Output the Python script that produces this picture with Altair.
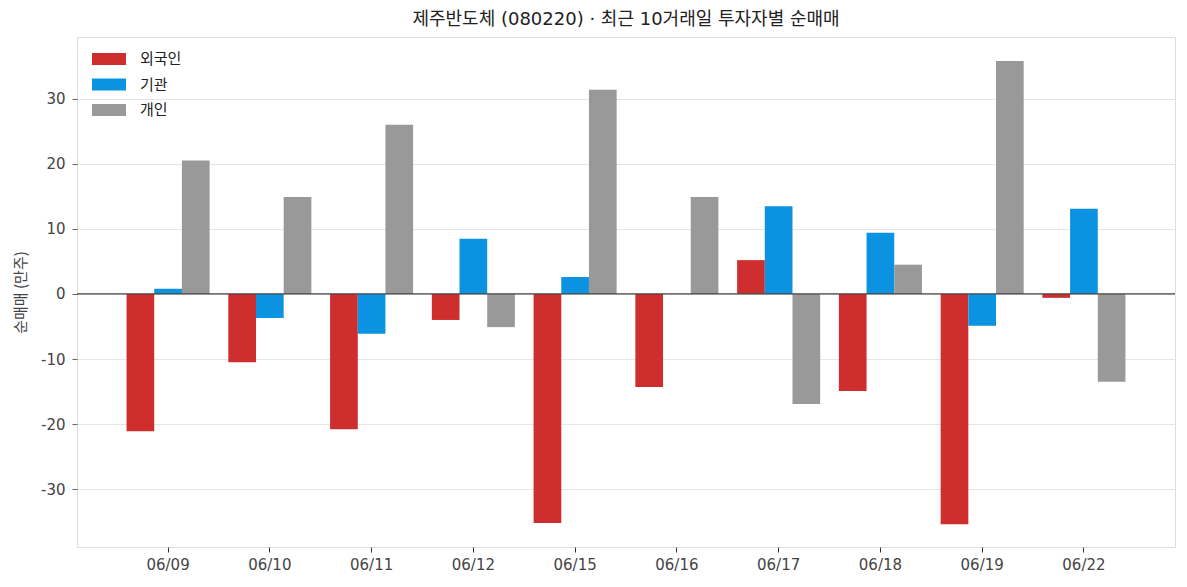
import altair as alt
import pandas as pd

dates = ["06/09", "06/10", "06/11", "06/12", "06/15", "06/16", "06/17", "06/18", "06/19", "06/22"]
foreign = [-21.1, -10.5, -20.8, -4.0, -35.2, -14.3, 5.2, -14.9, -35.4, -0.6]
inst = [0.8, -3.7, -6.1, 8.5, 2.6, 0.0, 13.5, 9.4, -4.9, 13.1]
indiv = [20.5, 14.9, 26.0, -5.1, 31.4, 14.9, -16.9, 4.5, 35.8, -13.5]
investors = ["외국인", "기관", "개인"]
colors = ["#cf2e2e", "#0b93e2", "#999999"]
y_ticks = [-30, -20, -10, 0, 10, 20, 30]

FONT = "DejaVu Sans, Noto Sans CJK KR"
KFONT = "Noto Sans CJK KR"

rows = []
for series, name in zip([foreign, inst, indiv], investors):
    for d, v in zip(dates, series):
        rows.append({"date": d, "investor": name, "value": v})
df = pd.DataFrame(rows)

yscale = alt.Scale(domain=[-38.9, 39.5], nice=False, zero=False)

bars = alt.Chart(df).mark_bar().encode(
    x=alt.X("date:N", sort=dates, title=None,
            scale=alt.Scale(paddingInner=0.184, paddingOuter=0.487),
            axis=alt.Axis(labelAngle=0, domain=False, grid=False, ticks=True,
                          tickColor="#333333", tickSize=5, labelPadding=5,
                          labelFontSize=15, labelColor="#444444", labelFont=FONT)),
    xOffset=alt.XOffset("investor:N", sort=investors,
                        scale=alt.Scale(domain=investors, paddingInner=0, paddingOuter=0)),
    y=alt.Y("value:Q", scale=yscale, title="순매매 (만주)",
            axis=alt.Axis(values=y_ticks, domain=False, grid=True, gridColor="#e6e6e6",
                          tickColor="#666666", tickSize=5, labelPadding=7,
                          labelExpr="replace(datum.label, '\u2212', '-')",
                          labelFontSize=15, labelColor="#444444", labelFont=FONT,
                          titleFont=KFONT, titleFontSize=15, titleColor="#444444",
                          titleFontWeight="normal", titlePadding=12)),
    color=alt.Color("investor:N", sort=investors,
                    scale=alt.Scale(domain=investors, range=colors),
                    legend=alt.Legend(title=None, orient="none", legendX=15, legendY=5,
                                      symbolType="M-1,-0.353H1V0.353H-1Z", symbolSize=1156,
                                      symbolStrokeWidth=0, labelFont=KFONT, labelFontSize=15,
                                      labelColor="#222222", labelOffset=14, rowPadding=0.5,
                                      padding=0)),
)

zero = alt.Chart(pd.DataFrame({"v": [0]})).mark_rule(color="#444444", strokeWidth=1.2).encode(
    y=alt.Y("v:Q", scale=yscale)
)

chart = alt.layer(bars, zero).properties(
    width=1098, height=510,
    title=alt.TitleParams("제주반도체 (080220) · 최근 10거래일 투자자별 순매매",
                          font=FONT, fontSize=18, fontWeight="normal", color="#222222",
                          anchor="middle", offset=8),
    autosize=alt.AutoSizeParams(type="none"),
    padding={"left": 77, "top": 37, "right": 12, "bottom": 40},
).configure_view(stroke="#dddddd", strokeWidth=1)

chart.save("out.html", embed_options={"renderer": "svg", "actions": False})
